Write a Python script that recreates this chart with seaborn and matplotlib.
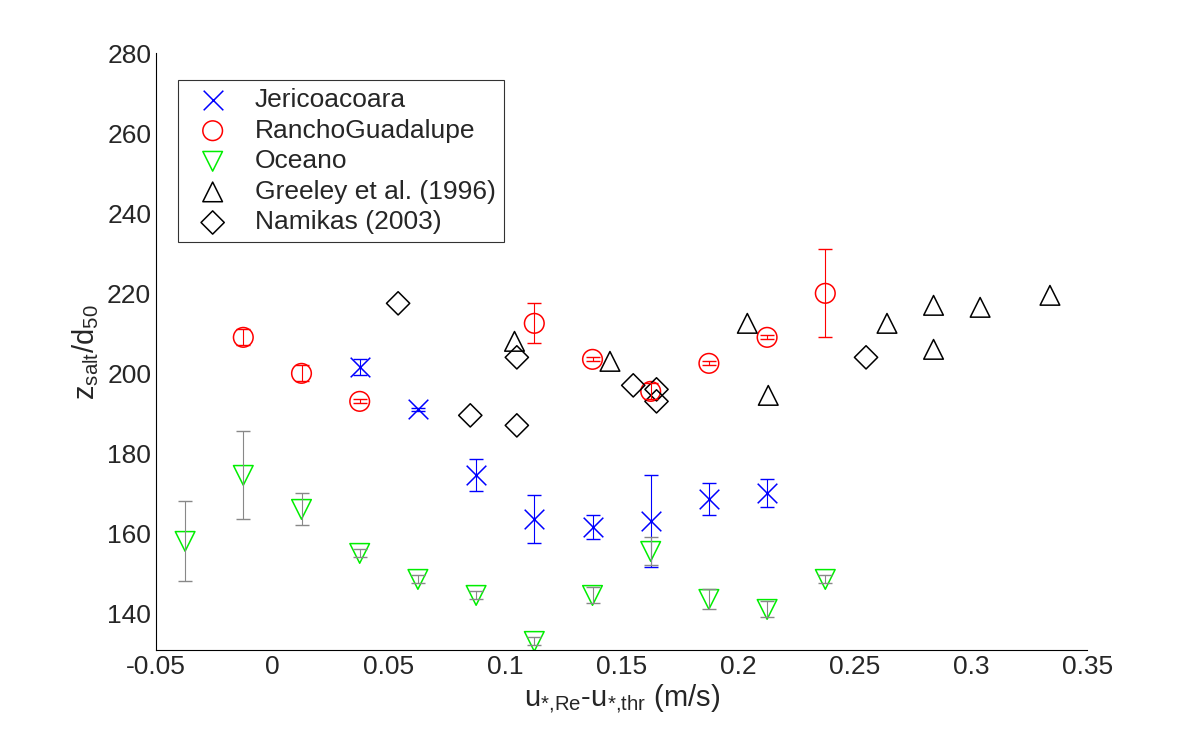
import numpy as np
import pandas as pd
import seaborn as sns
import matplotlib
matplotlib.use('Agg')
import matplotlib.pyplot as plt

# Jericoacoara
jer_x = [0.0375, 0.0625, 0.0875, 0.1125, 0.1375, 0.1625, 0.1875, 0.2125]
jer_y = [201.5, 191.0, 174.5, 163.5, 161.5, 163.0, 168.5, 170.0]
jer_e = [2.0, 0.3, 4.0, 6.0, 3.0, 11.5, 4.0, 3.5]
# Rancho Guadalupe
ran_x = [-0.0125, 0.0125, 0.0375, 0.1125, 0.1375, 0.1625, 0.1875, 0.2125, 0.2375]
ran_y = [209.0, 200.0, 193.0, 212.5, 203.5, 195.5, 202.5, 209.0, 220.0]
ran_e = [2.0, 2.0, 0.5, 5.0, 0.5, 2.0, 0.5, 0.5, 11.0]
# Oceano
oce_x = [-0.0375, -0.0125, 0.0125, 0.0375, 0.0625, 0.0875, 0.1125, 0.1375, 0.1625, 0.1875, 0.2125, 0.2375]
oce_y = [158.0, 174.5, 166.0, 155.0, 148.5, 144.5, 133.0, 144.5, 155.5, 143.5, 141.0, 148.5]
oce_e = [10.0, 11.0, 4.0, 1.0, 1.0, 1.0, 1.0, 2.0, 3.5, 2.5, 2.0, 1.0]
# Greeley et al. (1996)
gre_x = [0.104, 0.145, 0.204, 0.213, 0.264, 0.284, 0.284, 0.304, 0.334]
gre_y = [208.0, 203.0, 212.5, 194.5, 212.5, 217.0, 206.0, 216.5, 219.5]
# Namikas (2003)
nam_x = [0.054, 0.085, 0.105, 0.105, 0.155, 0.165, 0.165, 0.255]
nam_y = [217.5, 189.5, 187.0, 204.0, 197.0, 196.0, 193.0, 204.0]

sns.set_style('white')
plt.rcParams['font.family'] = ['Liberation Sans', 'DejaVu Sans']
plt.rcParams['mathtext.fontset'] = 'custom'
plt.rcParams['mathtext.rm'] = 'Liberation Sans'
plt.rcParams['mathtext.it'] = 'Liberation Sans'

fig = plt.figure(figsize=(12, 7.5), dpi=100)
ax = fig.add_axes([0.13, 0.133, 0.776, 0.796])

ax.errorbar(jer_x, jer_y, yerr=jer_e, fmt='none', ecolor='blue', elinewidth=0.8, capsize=5)
ax.errorbar(ran_x, ran_y, yerr=ran_e, fmt='none', ecolor='red', elinewidth=0.8, capsize=5)
ax.errorbar(oce_x, oce_y, yerr=oce_e, fmt='none', ecolor='#888888', elinewidth=0.8, capsize=5)

kw = dict(s=200, linewidth=1.1, ax=ax)
sns.scatterplot(x=jer_x, y=jer_y, marker='x', color='blue', label='Jericoacoara', **kw)
sns.scatterplot(x=ran_x, y=ran_y, marker='o', facecolor='none', edgecolor='red', label='RanchoGuadalupe', **kw)
sns.scatterplot(x=oce_x, y=oce_y, marker='v', facecolor='none', edgecolor='#00ee00', label='Oceano', **kw)
sns.scatterplot(x=gre_x, y=gre_y, marker='^', facecolor='none', edgecolor='black', label='Greeley et al. (1996)', **kw)
sns.scatterplot(x=nam_x, y=nam_y, marker='D', facecolor='none', edgecolor='black', s=140, linewidth=1.1,
                ax=ax, label='Namikas (2003)')

ax.set_xlim(-0.05, 0.35)
ax.set_ylim(130.8, 280)
ax.set_xticks(np.arange(-0.05, 0.351, 0.05))
ax.set_xticklabels(['-0.05', '0', '0.05', '0.1', '0.15', '0.2', '0.25', '0.3', '0.35'])
ax.set_yticks(np.arange(140, 281, 20))
ax.tick_params(labelsize=19, direction='in', length=6, width=0.8)
for s in ['top', 'right']:
    ax.spines[s].set_visible(False)
for s in ['left', 'bottom']:
    ax.spines[s].set_color('black')
    ax.spines[s].set_linewidth(0.8)

ax.set_xlabel(r'u$_{*{,}\mathrm{Re}}$-u$_{*{,}\mathrm{thr}}$ (m/s)', fontsize=21, labelpad=2)
ax.set_ylabel(r'z$_{\mathrm{salt}}$/d$_{50}$', fontsize=21, labelpad=4)

leg = ax.legend(loc='upper left', bbox_to_anchor=(0.024, 0.955), fontsize=19, frameon=True,
                fancybox=False, edgecolor='black', borderpad=0.3, labelspacing=0.25,
                handletextpad=0.6, borderaxespad=0)
leg.get_frame().set_linewidth(0.8)

fig.savefig('out.png', dpi=100)
